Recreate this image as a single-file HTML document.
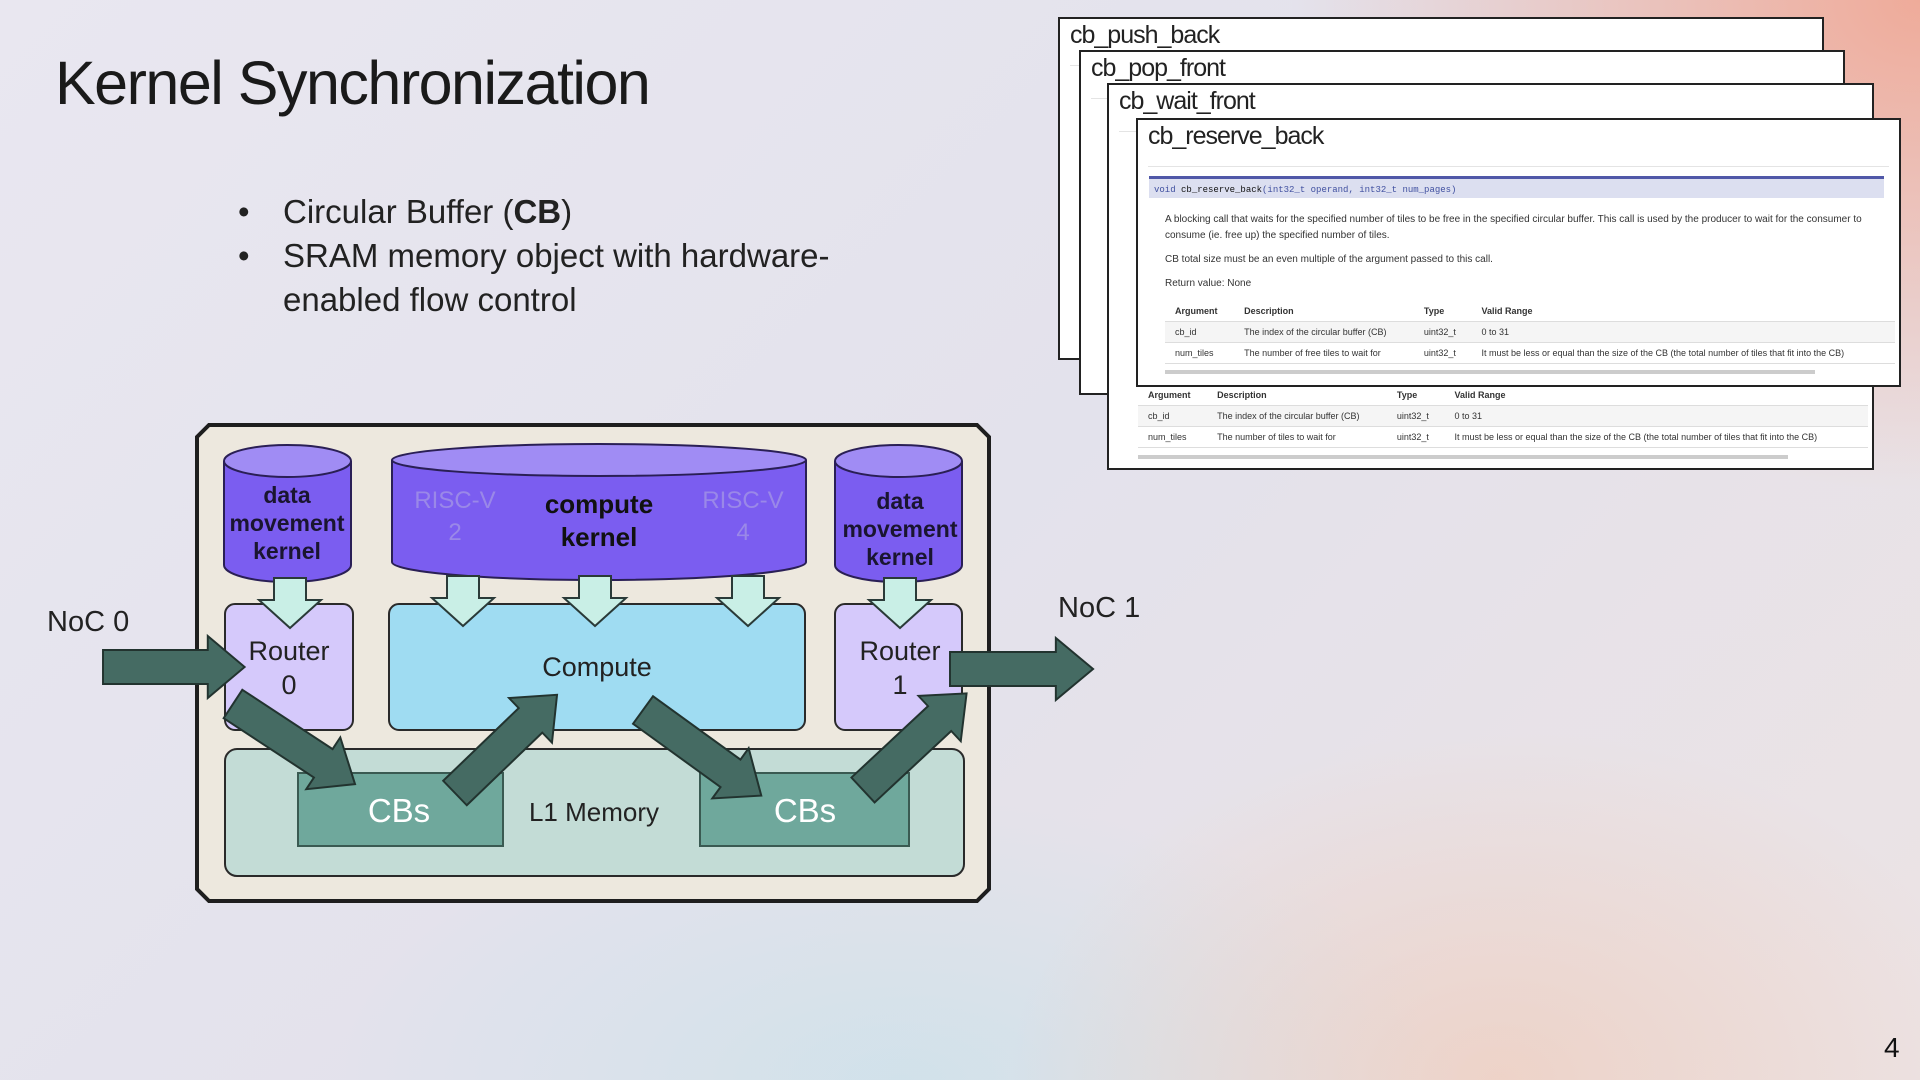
<!DOCTYPE html>
<html><head><meta charset="utf-8"><style>
html,body{margin:0;padding:0}
body{width:1920px;height:1080px;position:relative;overflow:hidden;font-family:"Liberation Sans",sans-serif;
background:
radial-gradient(ellipse 900px 700px at 1920px 0px, rgba(240,165,145,0.9), rgba(240,170,150,0) 70%),
radial-gradient(ellipse 700px 500px at 1500px 1080px, rgba(240,200,180,0.6), rgba(240,200,180,0) 70%),
radial-gradient(ellipse 800px 400px at 900px 1080px, rgba(200,225,235,0.7), rgba(200,225,235,0) 70%),
linear-gradient(135deg,#e9e7f0 0%,#e3e2ec 50%,#ece3e4 100%);}
.t{position:absolute;white-space:nowrap}
.doc{position:absolute;background:#fff;border:2px solid #222;box-sizing:border-box;overflow:hidden}
.doc .h{position:absolute;left:10px;top:2px;font-size:25px;color:#222;letter-spacing:-1px}
.doc .ln{position:absolute;left:10px;right:10px;top:46px;border-top:1px solid #e4e4e4}
.small{font-size:10px;color:#333}
table{border-collapse:collapse;font-size:9px;color:#333}
td,th{padding:5px 10px;text-align:left;border-bottom:1px solid #ddd}
th{font-weight:bold}
</style></head><body>
<div class="t" style="left:55px;top:48px;font-size:61px;color:#1a1a1a;letter-spacing:-1.5px">Kernel Synchronization</div>
<div class="t" style="left:238px;top:190px;font-size:33px;color:#222;line-height:44px">•<br>•</div>
<div class="t" style="left:283px;top:190px;font-size:33px;color:#222;line-height:44px">Circular Buffer (<b>CB</b>)<br>SRAM memory object with hardware-<br>enabled flow control</div>

<div class="doc" style="left:1058px;top:17px;width:766px;height:343px"><div class="h">cb_push_back</div><div class="ln"></div></div>
<div class="doc" style="left:1079px;top:50px;width:766px;height:345px"><div class="h">cb_pop_front</div><div class="ln"></div></div>
<div class="doc" style="left:1107px;top:83px;width:767px;height:387px"><div class="h">cb_wait_front</div><div class="ln"></div>
<table style="position:absolute;left:29px;top:300px;width:730px"><tr><th>Argument</th><th>Description</th><th>Type</th><th>Valid Range</th></tr>
<tr style="background:#f5f5f5"><td>cb_id</td><td>The index of the circular buffer (CB)</td><td>uint32_t</td><td>0 to 31</td></tr>
<tr><td>num_tiles</td><td>The number of tiles to wait for</td><td>uint32_t</td><td>It must be less or equal than the size of the CB (the total number of tiles that fit into the CB)</td></tr></table>
<div style="position:absolute;left:29px;top:370px;width:650px;height:4px;background:#ccc"></div></div>
<div class="doc" style="left:1136px;top:118px;width:765px;height:269px"><div class="h">cb_reserve_back</div><div class="ln"></div>
<div style="position:absolute;left:11px;top:56px;width:735px;height:22px;background:#dcdff0;border-top:3px solid #5058a8;font-family:'Liberation Mono',monospace;font-size:9px;color:#4050a0;line-height:22px;padding-left:5px;box-sizing:border-box">void <span style="color:#111">cb_reserve_back</span>(int32_t operand, int32_t num_pages)</div>
<div class="small" style="position:absolute;left:27px;top:92px;width:720px;line-height:16px">A blocking call that waits for the specified number of tiles to be free in the specified circular buffer. This call is used by the producer to wait for the consumer to consume (ie. free up) the specified number of tiles.</div>
<div class="small" style="position:absolute;left:27px;top:134px">CB total size must be an even multiple of the argument passed to this call.</div>
<div class="small" style="position:absolute;left:27px;top:158px">Return value: None</div>
<table style="position:absolute;left:27px;top:181px;width:730px"><tr><th>Argument</th><th>Description</th><th>Type</th><th>Valid Range</th></tr>
<tr style="background:#f5f5f5"><td>cb_id</td><td>The index of the circular buffer (CB)</td><td>uint32_t</td><td>0 to 31</td></tr>
<tr><td>num_tiles</td><td>The number of free tiles to wait for</td><td>uint32_t</td><td>It must be less or equal than the size of the CB (the total number of tiles that fit into the CB)</td></tr></table>
<div style="position:absolute;left:27px;top:250px;width:650px;height:4px;background:#ccc"></div></div>

<div class="t" style="left:47px;top:606px;font-size:29px;color:#222">NoC 0</div>
<div class="t" style="left:1058px;top:592px;font-size:29px;color:#222">NoC 1</div>
<div class="t" style="left:1884px;top:1032px;font-size:28px;color:#111">4</div>

<svg width="1920" height="1080" style="position:absolute;left:0;top:0" font-family="Liberation Sans, sans-serif">
<defs>
<g id="da"><path d="M-16,0 H16 V22 H31 L0,50 L-31,22 H-16 Z" fill="#c9efe6" stroke="#2a3a38" stroke-width="2"/></g>
<g id="ga"><path d="M0,-17 H108 V-31 L146,0 L108,31 V17 H0 Z" fill="#456b63" stroke="#22332f" stroke-width="2"/></g>
</defs>
<path d="M209,425 H977 L989,437 V889 L977,901 H209 L197,889 V437 Z" fill="#ede8de" stroke="#1e1e1e" stroke-width="4"/>
<path d="M224,461 V565 A63.5,17 0 0 0 351,565 V461" fill="#7b5df0" stroke="#2a1f55" stroke-width="2"/>
<ellipse cx="287.5" cy="461" rx="63.5" ry="16" fill="#a08cf4" stroke="#2a1f55" stroke-width="2"/>
<text x="287" y="503" text-anchor="middle" font-size="23" font-weight="bold" fill="#1a1530">data</text>
<text x="287" y="531" text-anchor="middle" font-size="23" font-weight="bold" fill="#1a1530">movement</text>
<text x="287" y="559" text-anchor="middle" font-size="23" font-weight="bold" fill="#1a1530">kernel</text>
<path d="M392,460 V562 A207,18 0 0 0 806,562 V460" fill="#7b5df0" stroke="#2a1f55" stroke-width="2"/>
<ellipse cx="599" cy="460" rx="207" ry="16" fill="#a08cf4" stroke="#2a1f55" stroke-width="2"/>
<text x="455" y="508" text-anchor="middle" font-size="24" fill="#9a88e8">RISC-V</text>
<text x="455" y="540" text-anchor="middle" font-size="24" fill="#9a88e8">2</text>
<text x="743" y="508" text-anchor="middle" font-size="24" fill="#9a88e8">RISC-V</text>
<text x="743" y="540" text-anchor="middle" font-size="24" fill="#9a88e8">4</text>
<text x="599" y="513" text-anchor="middle" font-size="26" font-weight="bold" fill="#111">compute</text>
<text x="599" y="546" text-anchor="middle" font-size="26" font-weight="bold" fill="#111">kernel</text>
<path d="M835,461 V565 A63.5,17 0 0 0 962,565 V461" fill="#7b5df0" stroke="#2a1f55" stroke-width="2"/>
<ellipse cx="898.5" cy="461" rx="63.5" ry="16" fill="#a08cf4" stroke="#2a1f55" stroke-width="2"/>
<text x="900" y="509" text-anchor="middle" font-size="23" font-weight="bold" fill="#1a1530">data</text>
<text x="900" y="537" text-anchor="middle" font-size="23" font-weight="bold" fill="#1a1530">movement</text>
<text x="900" y="565" text-anchor="middle" font-size="23" font-weight="bold" fill="#1a1530">kernel</text>
<rect x="225" y="604" width="128" height="126" rx="10" fill="#d5c9fb" stroke="#2a2a2a" stroke-width="2"/>
<rect x="389" y="604" width="416" height="126" rx="10" fill="#9fdcf2" stroke="#2a2a2a" stroke-width="2"/>
<rect x="835" y="604" width="127" height="126" rx="10" fill="#d5c9fb" stroke="#2a2a2a" stroke-width="2"/>
<text x="289" y="660" text-anchor="middle" font-size="27" fill="#222">Router</text>
<text x="289" y="694" text-anchor="middle" font-size="27" fill="#222">0</text>
<text x="900" y="660" text-anchor="middle" font-size="27" fill="#222">Router</text>
<text x="900" y="694" text-anchor="middle" font-size="27" fill="#222">1</text>
<text x="597" y="676" text-anchor="middle" font-size="27" fill="#222">Compute</text>
<rect x="225" y="749" width="739" height="127" rx="12" fill="#c3dcd6" stroke="#2a2a2a" stroke-width="2"/>
<rect x="298" y="773" width="205" height="73" fill="#6fa89c" stroke="#3a5a52" stroke-width="2"/>
<rect x="700" y="773" width="209" height="73" fill="#6fa89c" stroke="#3a5a52" stroke-width="2"/>
<text x="399" y="822" text-anchor="middle" font-size="33" fill="#fff">CBs</text>
<text x="805" y="822" text-anchor="middle" font-size="33" fill="#fff">CBs</text>
<text x="594" y="821" text-anchor="middle" font-size="26" fill="#222">L1 Memory</text>
<use href="#da" x="290" y="578"/>
<use href="#da" x="463" y="576"/>
<use href="#da" x="595" y="576"/>
<use href="#da" x="748" y="576"/>
<use href="#da" x="900" y="578"/>
<g transform="translate(103,667) scale(0.97,1)"><use href="#ga"/></g>
<g transform="translate(950,669) scale(0.98,1)"><use href="#ga"/></g>
<g transform="translate(233,704) rotate(33.3)"><use href="#ga"/></g>
<g transform="translate(455,793) rotate(-43.9) scale(0.97,1)"><use href="#ga"/></g>
<g transform="translate(643,710) rotate(35.9)"><use href="#ga"/></g>
<g transform="translate(863,790) rotate(-43) scale(0.97,1)"><use href="#ga"/></g>
</svg>
</body></html>
